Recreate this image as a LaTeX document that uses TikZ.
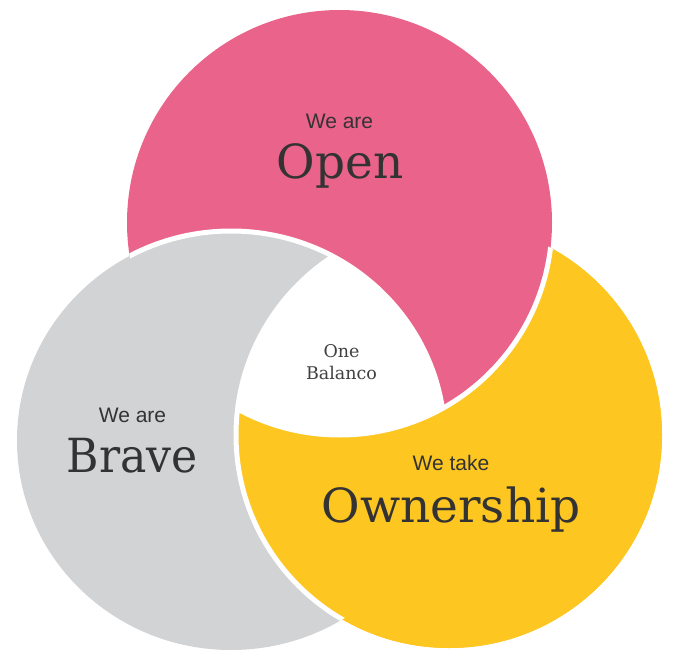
\documentclass[tikz,border=0pt]{standalone}
\usepackage{fontspec}
\setmainfont{DejaVu Serif}
\newfontfamily\sansf{Liberation Sans}
\definecolor{pinkc}{RGB}{234,99,138}
\definecolor{grayc}{RGB}{210,211,213}
\definecolor{yellowc}{RGB}{253,198,32}
\definecolor{txtc}{RGB}{51,51,51}
\definecolor{txtl}{RGB}{64,64,64}
\def\radP{212.5pt}
\def\radY{213pt}
\tikzset{
  sepline/.style={draw=white, line width=5pt},
  grayshape/.style={x radius=214pt, y radius=209.5pt},
  small/.style={anchor=base, text=txtc, font=\sansf\fontsize{21}{25}\selectfont},
  big/.style={anchor=base, text=txtc, font=\fontsize{47}{56}\selectfont},
  centre/.style={anchor=base, text=txtl, font=\fontsize{17.5}{20}\selectfont},
}
\begin{document}
\begin{tikzpicture}[x=1pt,y=-1pt]
\useasboundingbox (0,0) rectangle (680,653);
\coordinate (P) at (339.5,222.5);
\coordinate (G) at (231,440.5);
\coordinate (Y) at (449,435);
% fills, cyclic order gray > pink > yellow > gray
\fill[yellowc] (Y) circle[radius=\radY];
\fill[pinkc] (P) circle[radius=\radP];
\fill[grayc] (G) ellipse[grayshape];
\begin{scope}[even odd rule]
  \clip (-10,-10) rectangle (690,663) (P) circle[radius=\radP];
  \fill[yellowc] (Y) circle[radius=\radY];
\end{scope}
% white centre (triple intersection)
\begin{scope}
  \clip (P) circle[radius=\radP];
  \clip (G) ellipse[grayshape];
  \fill[white] (Y) circle[radius=\radY];
\end{scope}
% white separating edges
\begin{scope}
  \clip (P) circle[radius=\radP];
  \path[sepline] (G) ellipse[grayshape];
\end{scope}
\begin{scope}
  \clip (Y) circle[radius=\radY];
  \path[sepline] (P) circle[radius=\radP];
\end{scope}
\begin{scope}
  \clip (G) ellipse[grayshape];
  \path[sepline] (Y) circle[radius=\radY];
\end{scope}
% texts
\node[small] (openA) at (339.5,128) {We are};
\node[big] (openB) at (340,178) {Open};
\node[small] (braveA) at (132.5,422) {We are};
\node[big, xscale=0.94] (braveB) at (132.5,472) {Brave};
\node[small] (ownA) at (451,470) {We take};
\node[big] (ownB) at (451,522) {Ownership};
\node[centre] (oneA) at (341.5,357) {One};
\node[centre] (oneB) at (341.5,379) {Balanco};
\end{tikzpicture}
\end{document}
